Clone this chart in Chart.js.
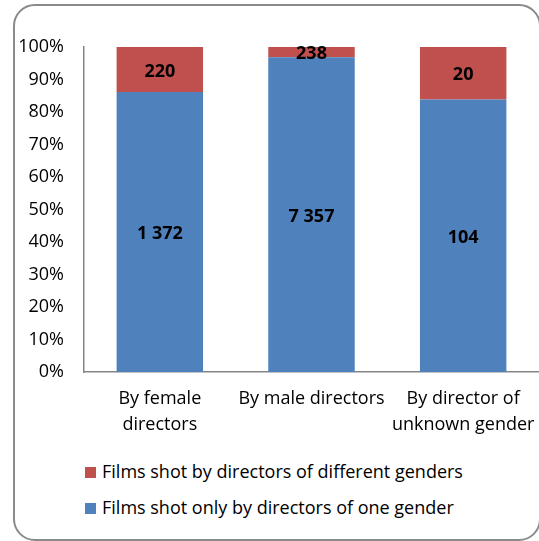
<!DOCTYPE html>
<html>
<head>
  <title>Films by director gender</title>
  <script src="https://cdn.jsdelivr.net/npm/chart.js"></script>
  <style>
    body { margin: 0; background: #fff; font-family: "Open Sans", sans-serif; }
    #frame {
      position: absolute; left: 13px; top: 4px; width: 524px; height: 533px;
      border: 2px solid #8a8a8a; border-radius: 22px; box-sizing: content-box;
    }
    #wrap { position: absolute; left: 0; top: 0; width: 539px; height: 450px; }
    #legend { position: absolute; left: 85px; top: 458px; font-size: 18px; color: #000; }
    .item { height: 36px; line-height: 26px; white-space: nowrap; }
    .sw { display: inline-block; width: 11px; height: 11px; margin-right: 6px; vertical-align: 0px; }
  </style>
</head>
<body>
  <div id="frame"></div>
  <div id="wrap"><canvas id="chart"></canvas></div>
  <div id="legend"></div>

  <script>
    const categories = [['By female', 'directors'], 'By male directors', ['By director of', 'unknown gender']];
    const oneGender = [1372, 7357, 104];
    const mixedGender = [220, 238, 20];
    const seriesNames = ['Films shot only by directors of one gender', 'Films shot by directors of different genders'];
    const yTicks = [0, 10, 20, 30, 40, 50, 60, 70, 80, 90, 100];

    const blue = '#4F81BD';
    const red = '#C0504D';

    // share of each series in its column
    const totals = oneGender.map((v, i) => v + mixedGender[i]);
    const pct = arr => arr.map((v, i) => v / totals[i] * 100);
    const counts = [oneGender, mixedGender];

    const fmt = n => String(n).replace(/\B(?=(\d{3})+(?!\d))/g, ' ');

    const labelPlugin = {
      id: 'segLabels',
      afterDatasetsDraw(chart) {
        const ctx = chart.ctx;
        ctx.save();
        ctx.font = 'bold 18px "Open Sans"';
        ctx.fillStyle = '#000';
        ctx.textAlign = 'center';
        ctx.textBaseline = 'middle';
        chart.data.datasets.forEach((ds, di) => {
          chart.getDatasetMeta(di).data.forEach((bar, i) => {
            const y = (bar.y + bar.base) / 2 + 2;
            ctx.fillText(fmt(counts[di][i]), bar.x, y);
          });
        });
        ctx.restore();
      }
    };

    Chart.defaults.font.family = '"Open Sans", sans-serif';
    Chart.defaults.font.size = 18;
    Chart.defaults.color = '#000';

    new Chart(document.getElementById('chart'), {
      type: 'bar',
      data: {
        labels: categories,
        datasets: [
          { label: seriesNames[0], data: pct(oneGender), backgroundColor: blue },
          { label: seriesNames[1], data: pct(mixedGender), backgroundColor: red }
        ]
      },
      options: {
        responsive: true,
        maintainAspectRatio: false,
        animation: false,
        layout: { padding: { top: 47, right: 0 } },
        plugins: { legend: { display: false }, tooltip: { enabled: false } },
        datasets: { bar: { barPercentage: 0.57, categoryPercentage: 1 } },
        scales: {
          x: {
            stacked: true,
            grid: { display: false, drawTicks: false },
            border: { display: true, color: '#868686', width: 1.5 },
            ticks: { padding: 14, font: { size: 18, lineHeight: 1.45 }, maxRotation: 0, autoSkip: false },
            afterFit(s) { s.height = 78; s.paddingLeft = 0; s.paddingRight = 0; }
          },
          y: {
            stacked: true,
            min: 0, max: 100,
            grid: { display: false, drawTicks: false },
            border: { display: true, color: '#868686', width: 1.5 },
            afterBuildTicks(s) { s.ticks = yTicks.map(v => ({ value: v })); },
            ticks: { padding: 20, callback: v => v + '%' },
            afterFit(s) { s.width = 84; s.paddingTop = 0; s.paddingBottom = 0; }
          }
        }
      },
      plugins: [labelPlugin]
    });

    const legend = document.getElementById('legend');
    [[seriesNames[1], red], [seriesNames[0], blue]].forEach(([name, col]) => {
      const d = document.createElement('div');
      d.className = 'item';
      d.innerHTML = '<span class="sw" style="background:' + col + '"></span>' + name;
      legend.appendChild(d);
    });
  </script>
</body>
</html>
